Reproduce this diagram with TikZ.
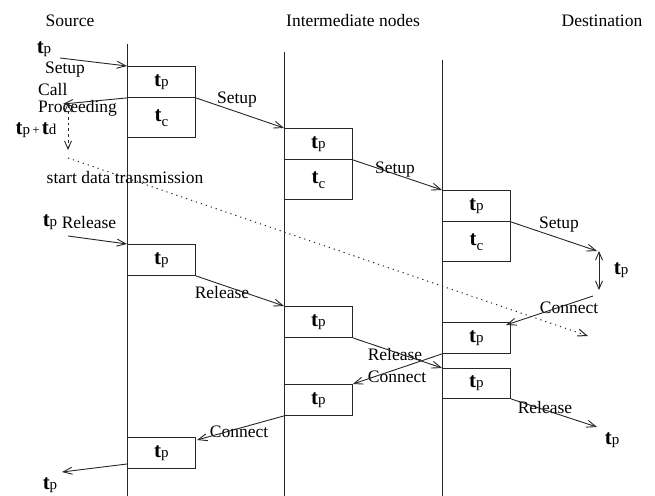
\documentclass[tikz,border=0pt]{standalone}
\usepackage{fontspec}
\setmainfont{Liberation Serif}
\usetikzlibrary{arrows.meta}
\newcommand\myt{{\bfseries\fontsize{21bp}{21bp}\selectfont t}}
\newcommand\mytp{\myt{\fontsize{15bp}{15bp}\selectfont p}}
\newcommand\mytc{\myt\raisebox{-5bp}{\fontsize{15bp}{15bp}\selectfont c}}
\newcommand\mytd{\myt{\fontsize{15bp}{15bp}\selectfont d}}
\begin{document}
\begin{tikzpicture}[x=1bp,y=-1bp,
  lbl/.style={inner sep=0pt,font=\fontsize{17.5bp}{20bp}\selectfont},
  box/.style={draw=black!85,line width=0.9bp,minimum width=68bp,inner sep=0pt,anchor=north west},
  cbox/.style={box,draw=none},
  life/.style={draw=black!85,line width=0.9bp},
  msg/.style={draw=black!85,line width=0.9bp,-{Straight Barb[length=9bp,width=7bp]}},
  dmsg/.style={draw=black!85,line width=0.9bp,{Straight Barb[length=8bp,width=7bp]}-{Straight Barb[length=8bp,width=7bp]}},
  dotline/.style={draw=black!85,line width=1bp,dash pattern=on 1.2bp off 4bp,-{Straight Barb[length=9bp,width=7bp]}}]
\useasboundingbox (0,0) rectangle (655,496);
% titles
\node[lbl] (tsrc) at (70,21) {Source};
\node[lbl] (tint) at (353,21) {Intermediate nodes};
\node[lbl] (tdst) at (602,21) {Destination};
% lifelines
\coordinate (s0) at (127,44); \coordinate (s9) at (127,496);
\coordinate (i0) at (284,52); \coordinate (i9) at (284,496);
\coordinate (d0) at (442,60); \coordinate (d9) at (442,496);
\draw[life] (s0) -- (s9);
\draw[life] (i0) -- (i9);
\draw[life] (d0) -- (d9);
% boxes
\node[box,minimum height=31bp] (s1p) at (127,66) {\mytp};
\node[cbox,minimum height=39bp] (s1c) at (s1p.south west) {\mytc};
\node[box,minimum height=31bp] (i1p) at (284,128) {\mytp};
\node[cbox,minimum height=39bp] (i1c) at (i1p.south west) {\mytc};
\node[box,minimum height=31bp] (d1p) at (442,190) {\mytp};
\node[cbox,minimum height=39bp] (d1c) at (d1p.south west) {\mytc};
\foreach \b in {s1c,i1c,d1c}
  \draw[life] (\b.north west) -- (\b.south west) -- (\b.south east) -- (\b.north east);
\node[box,minimum height=31bp] (s2) at (127,244) {\mytp};
\node[box,minimum height=31bp] (i2) at (284,306) {\mytp};
\node[box,minimum height=31bp] (d2) at (442,322) {\mytp};
\node[box,minimum height=30bp] (d3) at (442,368) {\mytp};
\node[box,minimum height=31bp] (i3) at (284,384) {\mytp};
\node[box,minimum height=31bp] (s3) at (127,437) {\mytp};
% free ends
\coordinate (a1) at (60,58);
\coordinate (cp) at (63,104);
\coordinate (w0) at (68,103); \coordinate (w1) at (68,150);
\coordinate (q0) at (68,158); \coordinate (q1) at (588,336);
\coordinate (st4) at (597,251);
\coordinate (v0) at (599,251); \coordinate (v1) at (599,290);
\coordinate (cn0) at (593,296); \coordinate (cn1) at (506,325);
\coordinate (r1) at (68,236);
\coordinate (cn3) at (197,440);
\coordinate (f0) at (127,464); \coordinate (f1) at (62,472);
\coordinate (rd) at (597,427);
% labels
\node[lbl] (ltp1) at (44,49) {\mytp};
\node[lbl] (lsu1) at (65,70) {Setup};
\node[lbl,anchor=west] (lcall) at (38,90) {Call};
\node[lbl,anchor=west] (lproc) at (38,108) {Proceeding};
\node[lbl] (ltd) at (36,130) {\mytp{\fontsize{13bp}{13bp}\selectfont\,+\,}\mytd};
\node[lbl] (lsdt) at (125,178) {start data transmission};
\node[lbl] (lsu2) at (237,100) {Setup};
\node[lbl] (lsu3) at (395,170) {Setup};
\node[lbl] (lsu4) at (559,225) {Setup};
\node[lbl] (ltp2) at (621,270) {\mytp};
\node[lbl] (lcn1) at (569,308) {Connect};
\node[lbl] (ltp3) at (50,222) {\mytp};
\node[lbl] (lre1) at (89,223) {Release};
\node[lbl] (lre2) at (222,293) {Release};
\node[lbl] (lre3) at (395,355) {Release};
\node[lbl] (lcn2) at (397,377) {Connect};
\node[lbl] (lcn3) at (239,432) {Connect};
\node[lbl] (ltp4) at (50,485) {\mytp};
\node[lbl] (lre4) at (545,408) {Release};
\node[lbl] (ltp5) at (612,440) {\mytp};
% messages
\draw[msg] (a1) -- (s1p.north west);
\draw[msg] (s1c.north west) -- (cp);
\draw[dmsg,dashed] (w0) -- (w1);
\draw[dotline] (q0) -- (q1);
\draw[msg] (s1c.north east) -- (i1p.north west);
\draw[msg] (i1c.north east) -- (d1p.north west);
\draw[msg] (d1c.north east) -- (st4);
\draw[dmsg] (v0) -- (v1);
\draw[msg] (cn0) -- (cn1);
\draw[msg] (r1) -- (s2.north west);
\draw[msg] (s2.south east) -- (i2.north west);
\draw[msg] (i2.south east) -- (d3.north west);
\draw[msg] (d2.south west) -- (i3.north east);
\draw[msg] (i3.south west) -- (cn3);
\draw[msg] (f0) -- (f1);
\draw[msg] (d3.south east) -- (rd);
\end{tikzpicture}
\end{document}
